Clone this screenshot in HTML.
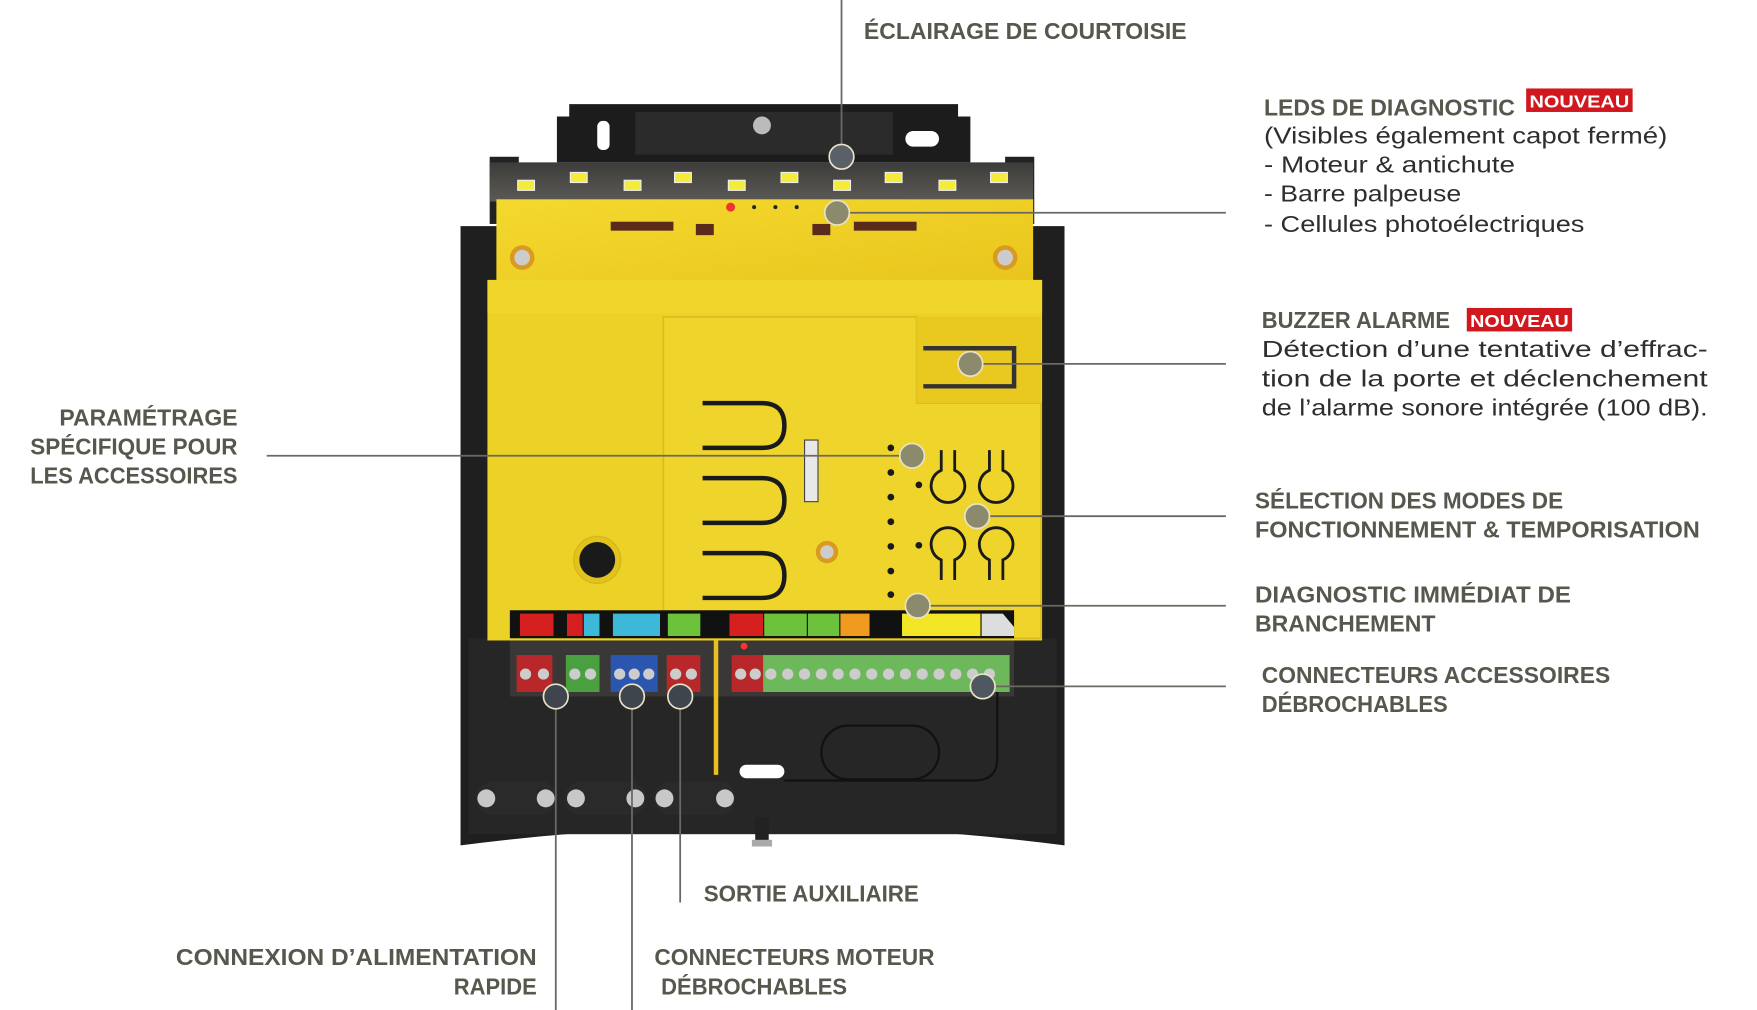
<!DOCTYPE html>
<html><head><meta charset="utf-8"><style>
html,body{margin:0;padding:0;background:#fff;width:1757px;height:1010px;overflow:hidden}
svg{display:block}
.h{font-family:"Liberation Sans",sans-serif;font-weight:bold;font-size:21px;fill:#58574e}
.b{font-family:"Liberation Sans",sans-serif;font-size:21px;fill:#2e2e2e}
.n{font-family:"Liberation Sans",sans-serif;font-weight:bold;font-size:16px;fill:#fff}
</style></head><body>
<svg width="1757" height="1010" viewBox="0 0 1568 902" preserveAspectRatio="none" xmlns="http://www.w3.org/2000/svg">
<defs>
<linearGradient id="bar" x1="0" y1="0" x2="0" y2="1"><stop offset="0" stop-color="#3c3c3a"/><stop offset="1" stop-color="#5c5a55"/></linearGradient>
<linearGradient id="yl" x1="0" y1="0" x2="1" y2="1"><stop offset="0" stop-color="#f4d92e"/><stop offset="1" stop-color="#e9c51c"/></linearGradient>
</defs>
<path d="M411 202 H950 V755 Q680 720 411 755 Z" fill="#1f1f1f"/>
<rect x="418" y="570" width="525" height="175" fill="#262626"/>
<path d="M508 93 H855 V104 H866 V145 H497 V104 H508 Z" fill="#1c1c1c"/>
<rect x="567" y="100" width="230" height="38" fill="#2b2b2b"/>
<circle cx="680" cy="112" r="8" fill="#bbb"/>
<rect x="533" y="108" width="11" height="26" rx="5" fill="#fff"/>
<rect x="808" y="117" width="30" height="14" rx="7" fill="#fff"/>
<rect x="437" y="140" width="26" height="60" fill="#222"/>
<rect x="897" y="140" width="26" height="60" fill="#222"/>
<rect x="437" y="145" width="485" height="35" fill="url(#bar)"/>
<g fill="#f5ec3a" stroke="#eee" stroke-width="1">
<rect x="462" y="161" width="15" height="9"/><rect x="509" y="154" width="15" height="9"/><rect x="557" y="161" width="15" height="9"/><rect x="602" y="154" width="15" height="9"/><rect x="650" y="161" width="15" height="9"/><rect x="697" y="154" width="15" height="9"/><rect x="744" y="161" width="15" height="9"/><rect x="790" y="154" width="15" height="9"/><rect x="838" y="161" width="15" height="9"/><rect x="884" y="154" width="15" height="9"/>
</g>
<rect x="443" y="178" width="479" height="75" fill="url(#yl)"/>
<circle cx="652" cy="185" r="4" fill="#e33"/>
<circle cx="673" cy="185" r="1.8" fill="#222"/><circle cx="692" cy="185" r="1.8" fill="#222"/><circle cx="711" cy="185" r="1.8" fill="#222"/>
<g fill="#5a2a1a"><rect x="545" y="198" width="56" height="8"/><rect x="621" y="200" width="16" height="10"/><rect x="725" y="200" width="16" height="10"/><rect x="762" y="198" width="56" height="8"/></g>
<circle cx="466" cy="230" r="11" fill="#d99a20"/><circle cx="466" cy="230" r="7" fill="#ccc"/>
<circle cx="897" cy="230" r="11" fill="#d99a20"/><circle cx="897" cy="230" r="7" fill="#ccc"/>
<rect x="435" y="250" width="495" height="322" fill="#ecd126"/>
<rect x="435" y="250" width="495" height="30" fill="#f0d52a"/>
<path d="M592 283 H818 V360 H929 V570 H592 Z" fill="#efd42b" stroke="#dcbc1c" stroke-width="1.5"/>
<path d="M818 283 H929 V360 H818" fill="#e9c920"/>
<path d="M824 311 H905 V345 H824" fill="none" stroke="#333" stroke-width="4"/>
<g fill="none" stroke="#1a1a1a" stroke-width="4">
<path d="M627 360 H680 Q700 360 700 380 Q700 400 680 400 H627"/>
<path d="M627 427 H680 Q700 427 700 447 Q700 467 680 467 H627"/>
<path d="M627 494 H680 Q700 494 700 514 Q700 534 680 534 H627"/>
</g>
<rect x="718" y="393" width="12" height="55" fill="#e8e8e8" stroke="#444"/>
<g fill="#1a1a1a"><circle cx="795" cy="400" r="3"/><circle cx="795" cy="422" r="3"/><circle cx="795" cy="444" r="3"/><circle cx="795" cy="466" r="3"/><circle cx="795" cy="488" r="3"/><circle cx="795" cy="510" r="3"/><circle cx="795" cy="531" r="3"/><circle cx="820" cy="433" r="3"/><circle cx="820" cy="487" r="3"/></g>
<g fill="none" stroke="#1a1a1a" stroke-width="2.5">
<path d="M840 402 V420 A15 15 0 1 0 852 420 V402"/><path d="M883 402 V420 A15 15 0 1 0 895 420 V402"/>
<path d="M840 518 V500 A15 15 0 1 1 852 500 V518"/><path d="M883 518 V500 A15 15 0 1 1 895 500 V518"/>
</g>
<circle cx="738" cy="493" r="10" fill="#d99a20"/><circle cx="738" cy="493" r="6" fill="#ccc"/>
<circle cx="533" cy="500" r="21" fill="#e2c21e" stroke="#d4b31a"/><circle cx="533" cy="500" r="16" fill="#1a1a1a"/>
<rect x="455" y="545" width="450" height="25" fill="#111"/>
<g>
<rect x="464" y="548" width="30" height="20" fill="#d62020"/><rect x="506" y="548" width="14" height="20" fill="#d62020"/><rect x="521" y="548" width="14" height="20" fill="#3cb8d8"/>
<rect x="547" y="548" width="42" height="20" fill="#3cb8d8"/><rect x="596" y="548" width="29" height="20" fill="#6cc23a"/>
<rect x="651" y="548" width="30" height="20" fill="#d62020"/><rect x="682" y="548" width="38" height="20" fill="#6cc23a"/><rect x="721" y="548" width="28" height="20" fill="#6cc23a"/>
<rect x="750" y="548" width="26" height="20" fill="#f09a20"/><rect x="805" y="548" width="70" height="20" fill="#f2e626"/><path d="M876 548 H895 L905 560 V568 H876 Z" fill="#ddd"/>
</g>
<rect x="455" y="572" width="450" height="50" fill="#3a3836"/>
<rect x="461" y="585" width="32" height="33" fill="#b8282a"/><rect x="505" y="585" width="30" height="33" fill="#4aa040"/><rect x="545" y="585" width="42" height="33" fill="#2a56b0"/><rect x="595" y="585" width="30" height="33" fill="#b8282a"/>
<rect x="653" y="585" width="28" height="33" fill="#b8282a"/><rect x="681" y="585" width="220" height="33" fill="#6cb85a"/>
<g fill="#ccc">
<circle cx="469" cy="602" r="5"/><circle cx="485" cy="602" r="5"/><circle cx="513" cy="602" r="5"/><circle cx="527" cy="602" r="5"/><circle cx="553" cy="602" r="5"/><circle cx="566" cy="602" r="5"/><circle cx="579" cy="602" r="5"/><circle cx="603" cy="602" r="5"/><circle cx="617" cy="602" r="5"/>
<circle cx="661" cy="602" r="5"/><circle cx="674" cy="602" r="5"/><circle cx="688" cy="602" r="5"/><circle cx="703" cy="602" r="5"/><circle cx="718" cy="602" r="5"/><circle cx="733" cy="602" r="5"/><circle cx="748" cy="602" r="5"/><circle cx="763" cy="602" r="5"/><circle cx="778" cy="602" r="5"/><circle cx="793" cy="602" r="5"/><circle cx="808" cy="602" r="5"/><circle cx="823" cy="602" r="5"/><circle cx="838" cy="602" r="5"/><circle cx="853" cy="602" r="5"/><circle cx="868" cy="602" r="5"/><circle cx="883" cy="602" r="5"/>
</g>
<circle cx="664" cy="577" r="3" fill="#f33"/>
<rect x="637" y="572" width="4" height="120" fill="#e8c020"/>
<rect x="733" y="648" width="105" height="48" rx="24" fill="none" stroke="#111" stroke-width="2"/>
<rect x="660" y="683" width="40" height="12" rx="6" fill="#fff"/>
<path d="M700 697 H870 Q890 697 890 677 V618" fill="none" stroke="#111" stroke-width="2"/>
<g>
<rect x="425" y="698" width="72" height="30" rx="14" fill="#2a2a2a"/><rect x="504" y="698" width="72" height="30" rx="14" fill="#2a2a2a"/><rect x="584" y="698" width="72" height="30" rx="14" fill="#2a2a2a"/>
<g fill="#c8c8c8"><circle cx="434" cy="713" r="8"/><circle cx="487" cy="713" r="8"/><circle cx="514" cy="713" r="8"/><circle cx="567" cy="713" r="8"/><circle cx="593" cy="713" r="8"/><circle cx="647" cy="713" r="8"/></g>
</g>
<rect x="674" y="730" width="12" height="25" fill="#222"/><rect x="671" y="750" width="18" height="6" fill="#aaa"/>
<g stroke="#6a6961" stroke-width="1.6" fill="none">
<line x1="751" y1="0" x2="751" y2="140"/>
<line x1="747" y1="190" x2="1094" y2="190"/>
<line x1="866" y1="325" x2="1094" y2="325"/>
<line x1="238" y1="407" x2="814" y2="407"/>
<line x1="872" y1="461" x2="1094" y2="461"/>
<line x1="819" y1="541" x2="1094" y2="541"/>
<line x1="877" y1="613" x2="1094" y2="613"/>
<line x1="607" y1="622" x2="607" y2="806"/>
<line x1="496" y1="622" x2="496" y2="902"/>
<line x1="564" y1="622" x2="564" y2="902"/>
</g>
<g stroke="#e8e2c8" stroke-width="1.5">
<circle cx="751" cy="140" r="11" fill="#5a6068"/>
<circle cx="747" cy="190" r="11" fill="#8c8a6c"/>
<circle cx="866" cy="325" r="11" fill="#8c8a6c"/>
<circle cx="814" cy="407" r="11" fill="#8c8a6c"/>
<circle cx="872" cy="461" r="11" fill="#8c8a6c"/>
<circle cx="819" cy="541" r="11" fill="#8c8a6c"/>
<circle cx="877" cy="613" r="11" fill="#4f5860"/>
<circle cx="496" cy="622" r="11" fill="#3e454c"/>
<circle cx="564" cy="622" r="11" fill="#3e454c"/>
<circle cx="607" cy="622" r="11" fill="#3e454c"/>
</g>
<text class="h" x="771" y="35" textLength="288" lengthAdjust="spacingAndGlyphs">ÉCLAIRAGE DE COURTOISIE</text>
<text class="h" x="1128" y="103" textLength="224" lengthAdjust="spacingAndGlyphs">LEDS DE DIAGNOSTIC</text>
<rect x="1362" y="79" width="95" height="21" fill="#d0181e"/>
<text class="n" x="1365" y="96" textLength="89" lengthAdjust="spacingAndGlyphs">NOUVEAU</text>
<text class="b" x="1128" y="128" textLength="360" lengthAdjust="spacingAndGlyphs">(Visibles également capot fermé)</text>
<text class="b" x="1128" y="154" textLength="224" lengthAdjust="spacingAndGlyphs">- Moteur &amp; antichute</text>
<text class="b" x="1128" y="180" textLength="176" lengthAdjust="spacingAndGlyphs">- Barre palpeuse</text>
<text class="b" x="1128" y="207" textLength="286" lengthAdjust="spacingAndGlyphs">- Cellules photoélectriques</text>
<text class="h" x="1126" y="293" textLength="168" lengthAdjust="spacingAndGlyphs">BUZZER ALARME</text>
<rect x="1309" y="275" width="94" height="21" fill="#d0181e"/>
<text class="n" x="1312" y="292" textLength="88" lengthAdjust="spacingAndGlyphs">NOUVEAU</text>
<text class="b" x="1126" y="319" textLength="398" lengthAdjust="spacingAndGlyphs">Détection d’une tentative d’effrac-</text>
<text class="b" x="1126" y="345" textLength="398" lengthAdjust="spacingAndGlyphs">tion de la porte et déclenchement</text>
<text class="b" x="1126" y="371" textLength="398" lengthAdjust="spacingAndGlyphs">de l’alarme sonore intégrée (100 dB).</text>
<text class="h" x="53" y="380" textLength="159" lengthAdjust="spacingAndGlyphs">PARAMÉTRAGE</text>
<text class="h" x="27" y="406" textLength="185" lengthAdjust="spacingAndGlyphs">SPÉCIFIQUE POUR</text>
<text class="h" x="27" y="432" textLength="185" lengthAdjust="spacingAndGlyphs">LES ACCESSOIRES</text>
<text class="h" x="1120" y="454" textLength="275" lengthAdjust="spacingAndGlyphs">SÉLECTION DES MODES DE</text>
<text class="h" x="1120" y="480" textLength="397" lengthAdjust="spacingAndGlyphs">FONCTIONNEMENT &amp; TEMPORISATION</text>
<text class="h" x="1120" y="538" textLength="282" lengthAdjust="spacingAndGlyphs">DIAGNOSTIC IMMÉDIAT DE</text>
<text class="h" x="1120" y="564" textLength="161" lengthAdjust="spacingAndGlyphs">BRANCHEMENT</text>
<text class="h" x="1126" y="610" textLength="311" lengthAdjust="spacingAndGlyphs">CONNECTEURS ACCESSOIRES</text>
<text class="h" x="1126" y="636" textLength="166" lengthAdjust="spacingAndGlyphs">DÉBROCHABLES</text>
<text class="h" x="628" y="805" textLength="192" lengthAdjust="spacingAndGlyphs">SORTIE AUXILIAIRE</text>
<text class="h" x="157" y="862" textLength="322" lengthAdjust="spacingAndGlyphs">CONNEXION D’ALIMENTATION</text>
<text class="h" x="405" y="888" textLength="74" lengthAdjust="spacingAndGlyphs">RAPIDE</text>
<text class="h" x="584" y="862" textLength="250" lengthAdjust="spacingAndGlyphs">CONNECTEURS MOTEUR</text>
<text class="h" x="590" y="888" textLength="166" lengthAdjust="spacingAndGlyphs">DÉBROCHABLES</text>
</svg>
</body></html>
